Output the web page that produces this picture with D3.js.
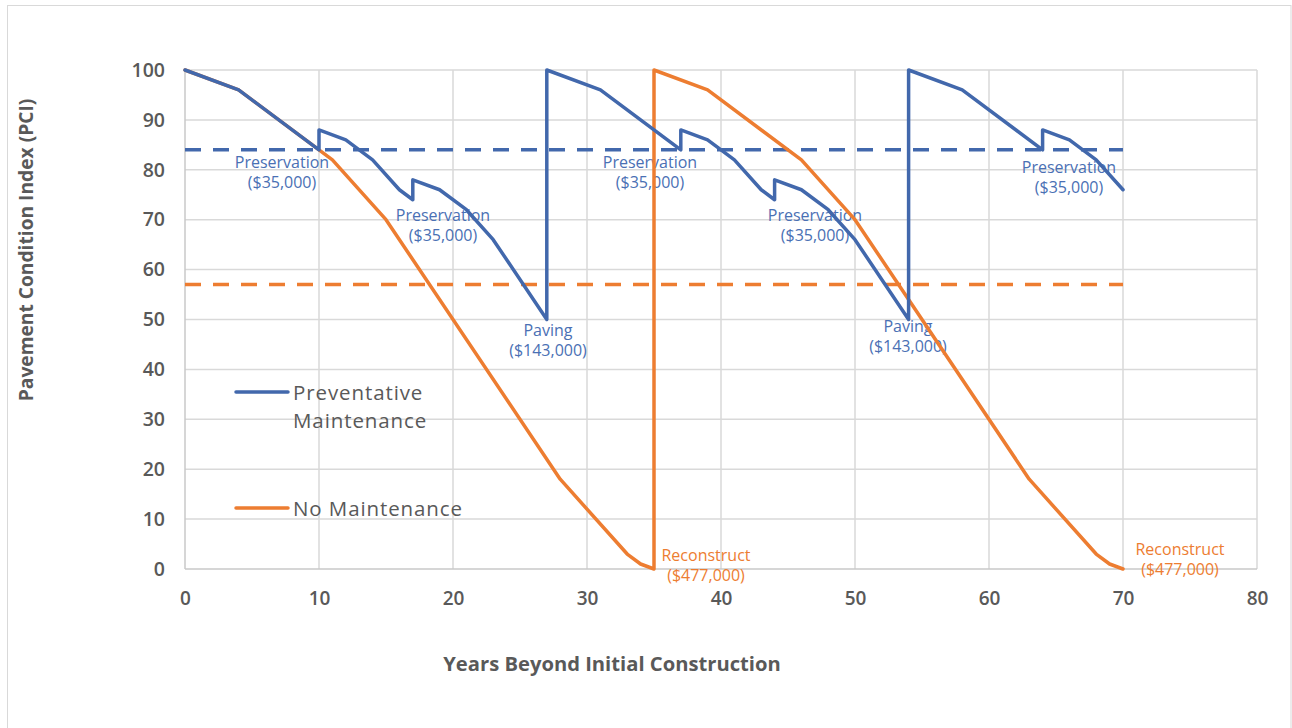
<!DOCTYPE html>
<html>
<head>
<meta charset="utf-8">
<script src="https://cdn.jsdelivr.net/npm/d3@7"></script>
<style>
  html, body { margin: 0; padding: 0; background: #fff; }
  svg { display: block; }
  text { font-family: "Open Sans", "DejaVu Sans", sans-serif; }
</style>
</head>
<body>
<svg id="chart" width="1292" height="728"></svg>
<script>
// ---- data ----
const yearsPM = [0,4,10,10,12,14,16,17,17,19,21,23,27,27,31,37,37,39,41,43,44,44,46,48,50,54,54,58,64,64,66,68,70];
const pciPM   = [100,96,84,88,86,82,76,74,78,76,72,66,50,100,96,84,88,86,82,76,74,78,76,72,66,50,100,96,84,88,86,82,76];
const yearsNM = [0,4,11,15,28,33,34,35,35,39,46,50,63,68,69,70];
const pciNM   = [100,96,82,70,18,3,1,0,100,96,82,70,18,3,1,0];
const thresholdYears = [0,70];
const thresholdPM = 84;
const thresholdNM = 57;
const xTicks = [0,10,20,30,40,50,60,70,80];
const yTicks = [0,10,20,30,40,50,60,70,80,90,100];
const seriesNames = [["Preventative", "Maintenance"], ["No Maintenance"]];
const pmNotes = [
  {x: 10, lines: ["Preservation", "($35,000)"]},
  {x: 17, lines: ["Preservation", "($35,000)"]},
  {x: 37, lines: ["Preservation", "($35,000)"]},
  {x: 44, lines: ["Preservation", "($35,000)"]},
  {x: 64, lines: ["Preservation", "($35,000)"]},
  {x: 27, lines: ["Paving", "($143,000)"]},
  {x: 54, lines: ["Paving", "($143,000)"]}
];
const nmNotes = [
  {x: 35, lines: ["Reconstruct", "($477,000)"]},
  {x: 70, lines: ["Reconstruct", "($477,000)"]}
];

// ---- layout ----
const svg = d3.select("#chart");
const blue = "#4268AC", orange = "#ED7D31", gridC = "#d9d9d9", textC = "#595959";
const x = d3.scaleLinear().domain([0, 80]).range([185, 1257]);
const y = d3.scaleLinear().domain([0, 100]).range([569, 70]);

// outer frame
svg.append("rect").attr("x", 7.5).attr("y", 5.5).attr("width", 1283.5).attr("height", 730)
  .attr("fill", "none").attr("stroke", "#d9d9d9").attr("stroke-width", 1);

// gridlines
svg.append("g").selectAll("line").data(yTicks.filter(d => d > 0)).join("line")
  .attr("x1", x(0)).attr("x2", x(80)).attr("y1", d => y(d)).attr("y2", d => y(d))
  .attr("stroke", gridC).attr("stroke-width", 1.5);
svg.append("g").selectAll("line").data(xTicks.filter(d => d > 0)).join("line")
  .attr("y1", y(0)).attr("y2", y(100)).attr("x1", d => x(d)).attr("x2", d => x(d))
  .attr("stroke", gridC).attr("stroke-width", 1.5);

// axes lines
svg.append("line").attr("x1", x(0)).attr("x2", x(0)).attr("y1", y(0)).attr("y2", y(100))
  .attr("stroke", "#c8c8c8").attr("stroke-width", 1.5);
svg.append("line").attr("x1", x(0)).attr("x2", x(80)).attr("y1", y(0)).attr("y2", y(0))
  .attr("stroke", "#c8c8c8").attr("stroke-width", 1.5);

// tick labels via axes
const yAxis = d3.axisLeft(y).tickValues(yTicks).tickSize(0).tickPadding(20);
const gy = svg.append("g").attr("transform", `translate(${x(0)},0)`).call(yAxis);
gy.select(".domain").remove();
gy.selectAll("text").attr("fill", textC).attr("font-size", 19.5).attr("font-weight", 600)
  .style("font-family", '"Open Sans", sans-serif');

const xAxis = d3.axisBottom(x).tickValues(xTicks).tickSize(0).tickPadding(23);
const gx = svg.append("g").attr("transform", `translate(0,${y(0)})`).call(xAxis);
gx.select(".domain").remove();
gx.selectAll("text").attr("fill", textC).attr("font-size", 19).attr("font-weight", 600)
  .style("font-family", '"Open Sans", sans-serif');

// axis titles
svg.append("text").attr("x", 612).attr("y", 671).attr("text-anchor", "middle")
  .attr("font-size", 20.2).attr("font-weight", 700).attr("fill", textC)
  .text("Years Beyond Initial Construction");
svg.append("text").attr("transform", "translate(33,250) rotate(-90)").attr("text-anchor", "middle")
  .attr("font-size", 19.2).attr("font-weight", 700).attr("fill", textC)
  .text("Pavement Condition Index (PCI)");

// annotations (under lines)
const notePos = {
  10: [282, 168], 17: [443, 221], 37: [650, 168], 44: [815, 221], 64: [1069, 173],
  27: [548, 336], 54: [908, 332], 35: [706, 561], 70: [1180, 555]
};
const ann = svg.append("g");
function drawNotes(notes, color) {
  notes.forEach(n => {
    const p = notePos[n.x];
    const t = ann.append("text").attr("x", p[0]).attr("y", p[1]).attr("text-anchor", "middle")
      .attr("font-size", 16).attr("fill", color);
    n.lines.forEach((l, i) => {
      t.append("tspan").attr("x", p[0]).attr("dy", i === 0 ? 0 : 19.5).text(l);
    });
  });
}
drawNotes(pmNotes, "#4A70B4");
drawNotes(nmNotes, orange);

// threshold dashed lines
svg.append("line").attr("x1", x(thresholdYears[0])).attr("x2", x(thresholdYears[1]))
  .attr("y1", y(thresholdPM)).attr("y2", y(thresholdPM))
  .attr("stroke", blue).attr("stroke-width", 3.5).attr("stroke-dasharray", "16,12");
svg.append("line").attr("x1", x(thresholdYears[0])).attr("x2", x(thresholdYears[1]))
  .attr("y1", y(thresholdNM)).attr("y2", y(thresholdNM))
  .attr("stroke", orange).attr("stroke-width", 3.5).attr("stroke-dasharray", "16,12");

// series lines
const line = d3.line().x(d => x(d[0])).y(d => y(d[1]));
svg.append("path").datum(yearsNM.map((v, i) => [v, pciNM[i]])).attr("d", line)
  .attr("fill", "none").attr("stroke", orange).attr("stroke-width", 3.5)
  .attr("stroke-linejoin", "round").attr("stroke-linecap", "round");
svg.append("path").datum(yearsPM.map((v, i) => [v, pciPM[i]])).attr("d", line)
  .attr("fill", "none").attr("stroke", blue).attr("stroke-width", 3.5)
  .attr("stroke-linejoin", "round").attr("stroke-linecap", "round");

// legend
const leg = svg.append("g");
const legItems = [
  {color: blue, ly: 392, ty: 400, lines: seriesNames[0]},
  {color: orange, ly: 508, ty: 516, lines: seriesNames[1]}
];
legItems.forEach(it => {
  leg.append("line").attr("x1", 236).attr("x2", 288).attr("y1", it.ly).attr("y2", it.ly)
    .attr("stroke", it.color).attr("stroke-width", 3.5).attr("stroke-linecap", "round");
  const t = leg.append("text").attr("x", 293).attr("y", it.ty).attr("font-size", 20.5)
    .attr("letter-spacing", 0.9).attr("fill", textC);
  it.lines.forEach((l, i) => t.append("tspan").attr("x", 293).attr("dy", i === 0 ? 0 : 28).text(l));
});
</script>
</body>
</html>
